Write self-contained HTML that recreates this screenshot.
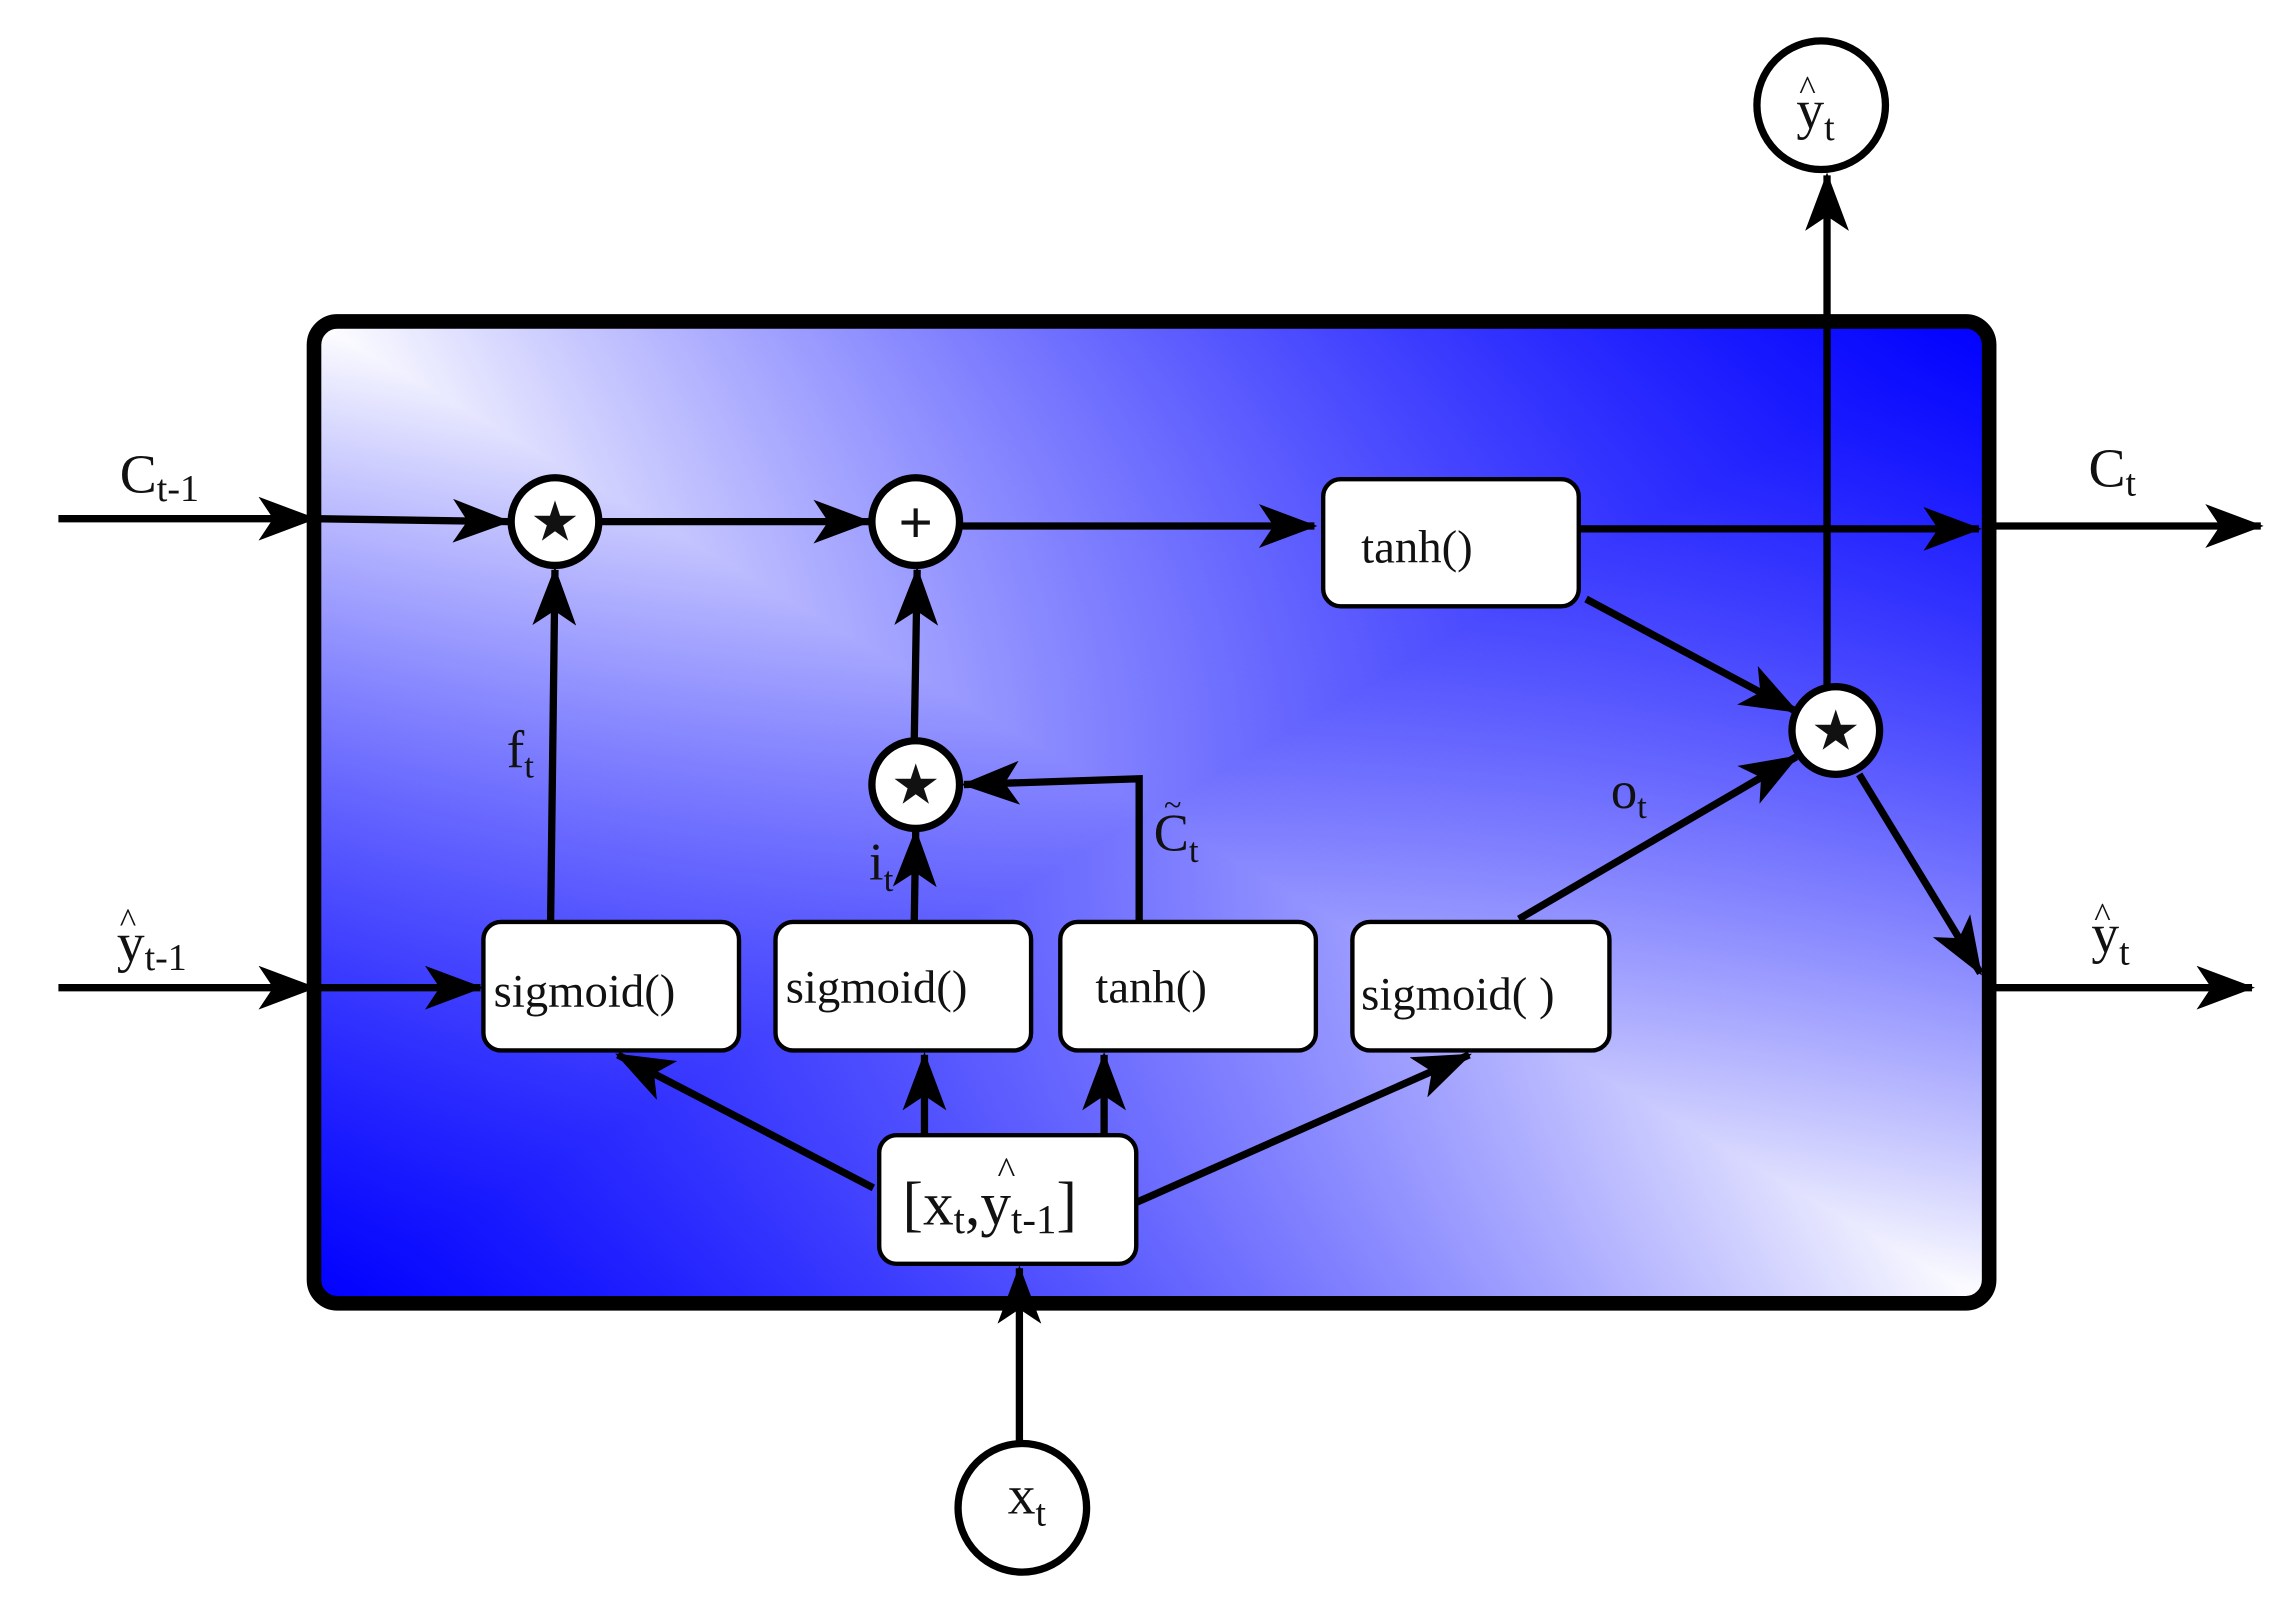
<!DOCTYPE html>
<html><head><meta charset="utf-8"><style>
html,body{margin:0;padding:0;background:#fff;}
svg{display:block;}
text{font-family:"Liberation Serif",serif;fill:#111;}
</style></head><body>
<svg width="2290" height="1613" viewBox="0 0 1568 1104" preserveAspectRatio="none" xmlns="http://www.w3.org/2000/svg">
<defs>
<linearGradient id="g1" x1="0" y1="0" x2="1" y2="1">
<stop offset="0" stop-color="#ffffff"/>
<stop offset="0.5" stop-color="#7a7aff"/>
<stop offset="1" stop-color="#ffffff"/>
</linearGradient>
<linearGradient id="g2" x1="0" y1="1" x2="1" y2="0">
<stop offset="0" stop-color="#0000ff" stop-opacity="1"/>
<stop offset="0.5" stop-color="#0000ff" stop-opacity="0"/>
<stop offset="1" stop-color="#0000ff" stop-opacity="1"/>
</linearGradient>
<marker id="a" viewBox="0 0 40 30" refX="38" refY="15" markerWidth="40" markerHeight="30" markerUnits="userSpaceOnUse" orient="auto">
<path d="M0,0 L40,15 L0,30 L10,15 Z" fill="#000"/>
</marker>
</defs>
<rect x="215" y="220" width="1147" height="672" rx="16" fill="url(#g1)"/>
<rect x="215" y="220" width="1147" height="672" rx="16" fill="url(#g2)"/>
<rect x="215" y="220" width="1147" height="672" rx="16" fill="none" stroke="#000" stroke-width="10"/>

<g stroke="#000" stroke-width="5" fill="none">
<line x1="40" y1="355" x2="215" y2="355" marker-end="url(#a)"/>
<line x1="215" y1="355" x2="348" y2="357" marker-end="url(#a)"/>
<line x1="412" y1="357" x2="595" y2="357" marker-end="url(#a)"/>
<line x1="659" y1="360" x2="900" y2="360" marker-end="url(#a)"/>
<line x1="1082" y1="362" x2="1355" y2="362" marker-end="url(#a)"/>
<line x1="1362" y1="360" x2="1548" y2="360" marker-end="url(#a)"/>
<line x1="40" y1="676" x2="215" y2="676" marker-end="url(#a)"/>
<line x1="215" y1="676" x2="329" y2="676" marker-end="url(#a)"/>
<line x1="377" y1="631" x2="380" y2="390" marker-end="url(#a)"/>
<line x1="626" y1="631" x2="627" y2="569" marker-end="url(#a)"/>
<line x1="626" y1="507" x2="628" y2="390" marker-end="url(#a)"/>
<polyline points="780,631 780,533 660,537" marker-end="url(#a)"/>
<line x1="1040" y1="629" x2="1230" y2="518" marker-end="url(#a)"/>
<line x1="1086" y1="410" x2="1230" y2="487" marker-end="url(#a)"/>
<line x1="1251" y1="470" x2="1251" y2="120" marker-end="url(#a)"/>
<line x1="1273" y1="530" x2="1356" y2="666" marker-end="url(#a)"/>
<line x1="1362" y1="676" x2="1542" y2="676" marker-end="url(#a)"/>
<line x1="598" y1="813" x2="423" y2="722" marker-end="url(#a)"/>
<line x1="633" y1="777" x2="633" y2="722" marker-end="url(#a)"/>
<line x1="756" y1="777" x2="756" y2="722" marker-end="url(#a)"/>
<line x1="778" y1="823" x2="1006" y2="722" marker-end="url(#a)"/>
<line x1="698" y1="987" x2="698" y2="868" marker-end="url(#a)"/>
</g>

<g fill="#fff" stroke="#000" stroke-width="3">
<rect x="906" y="328" width="175" height="87" rx="12"/>
<rect x="331" y="631" width="175" height="88" rx="12"/>
<rect x="531" y="631" width="175" height="88" rx="12"/>
<rect x="726" y="631" width="175" height="88" rx="12"/>
<rect x="926" y="631" width="176" height="88" rx="12"/>
<rect x="602" y="777" width="176" height="88" rx="12"/>
</g>
<g fill="#fff" stroke="#000" stroke-width="5">
<circle cx="380" cy="357" r="30"/>
<circle cx="627" cy="357" r="30"/>
<circle cx="627" cy="537" r="30"/>
<circle cx="1257" cy="500" r="30"/>
<circle cx="1247" cy="72" r="44"/>
<circle cx="700" cy="1032" r="44"/>
</g>
<g fill="#000">
<text x="380" y="370" font-size="38" text-anchor="middle">★</text>
<text x="627" y="550" font-size="38" text-anchor="middle">★</text>
<text x="1257" y="513" font-size="38" text-anchor="middle">★</text>
<text x="627" y="371" font-size="40" text-anchor="middle" style="font-family:'Liberation Sans',sans-serif">+</text>
</g>

<g font-size="32">
<text x="932" y="385">tanh()</text>
<text x="338" y="689">sigmoid()</text>
<text x="538" y="686">sigmoid()</text>
<text x="750" y="686">tanh()</text>
<text x="932" y="691">sigmoid( )</text>
<text x="618" y="838" font-size="42">[x<tspan font-size="28" dy="6">t</tspan><tspan dy="-6">,</tspan><tspan>y</tspan><tspan font-size="28" dy="6">t-1</tspan><tspan dy="-6">]</tspan></text>
<text x="683" y="810" font-size="26">^</text>
<text x="82" y="337" font-size="38">C<tspan font-size="26" dy="6">t-1</tspan></text>
<text x="80" y="658" font-size="38">y<tspan font-size="26" dy="6">t-1</tspan></text>
<text x="82" y="638" font-size="24">^</text>
<text x="1430" y="333" font-size="38">C<tspan font-size="26" dy="6">t</tspan></text>
<text x="1432" y="652" font-size="38">y<tspan font-size="26" dy="8">t</tspan></text>
<text x="1434" y="634" font-size="24">^</text>
<text x="1230" y="88" font-size="38">y<tspan font-size="26" dy="8">t</tspan></text>
<text x="1232" y="68" font-size="24">^</text>
<text x="690" y="1036" font-size="38">x<tspan font-size="26" dy="8">t</tspan></text>
<text x="347" y="525" font-size="36">f<tspan font-size="24" dy="7">t</tspan></text>
<text x="595" y="602" font-size="36">i<tspan font-size="24" dy="8">t</tspan></text>
<text x="790" y="582" font-size="36">C<tspan font-size="24" dy="8">t</tspan></text>
<text x="797" y="558" font-size="22">~</text>
<text x="1103" y="553" font-size="36">o<tspan font-size="24" dy="7">t</tspan></text>
</g>
</svg>
</body></html>
